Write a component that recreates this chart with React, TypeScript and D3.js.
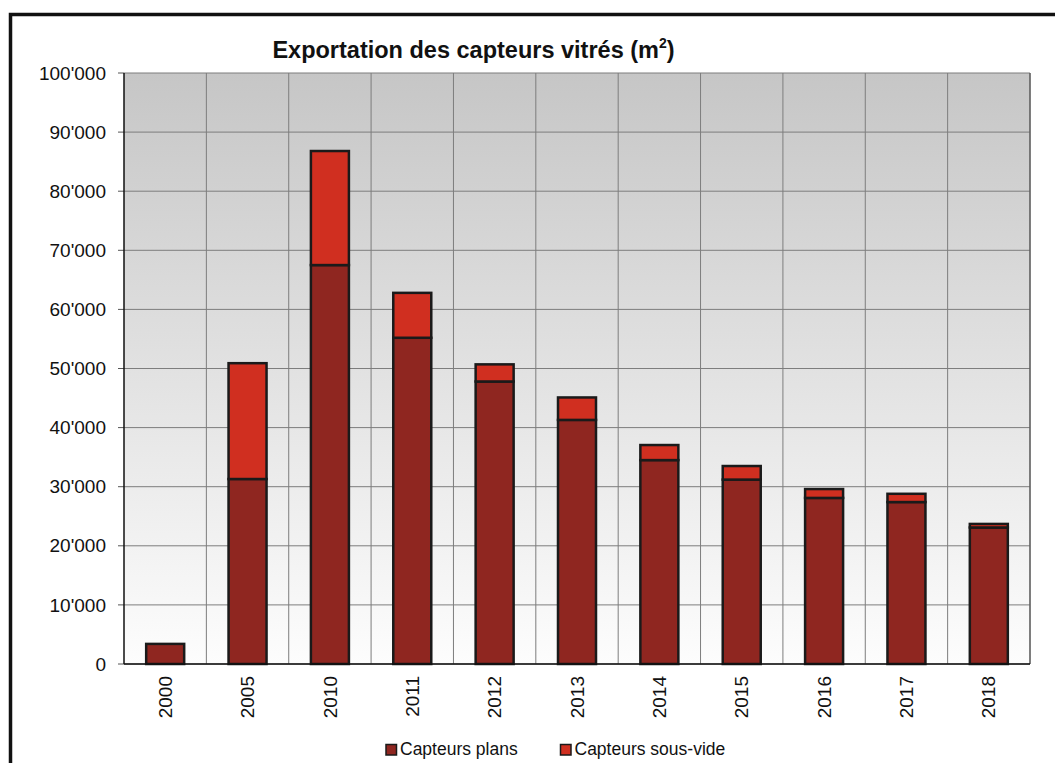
import React from 'react';
import * as d3 from 'd3';

const years = ['2000', '2005', '2010', '2011', '2012', '2013', '2014', '2015', '2016', '2017', '2018'];
const plans = [3400, 31300, 67500, 55200, 47800, 41300, 34500, 31200, 28100, 27400, 23100];
const sousVide = [0, 19600, 19300, 7600, 2900, 3800, 2550, 2300, 1500, 1400, 600];
const yTicks = [0, 10000, 20000, 30000, 40000, 50000, 60000, 70000, 80000, 90000, 100000];
const seriesNames = ['Capteurs plans', 'Capteurs sous-vide'];
const seriesColors = ['#8f2620', '#d02f20'];

const W = 1055, H = 763;
const plot = { left: 124, top: 73, right: 1030, bottom: 664 };
const FONT = '"Liberation Sans", Arial, sans-serif';

const fmt = (v: number) => {
  if (v === 0) return '0';
  const th = Math.floor(v / 1000);
  return `${th}'000`;
};

export default function App() {
  const x = d3.scaleBand<string>().domain(years).range([plot.left, plot.right]).paddingInner(0).paddingOuter(0);
  const y = d3.scaleLinear().domain([0, 100000]).range([plot.bottom, plot.top]);
  const bw = 38;
  const rows = years.map((yr, i) => ({ yr, a: plans[i], b: sousVide[i] }));
  const stack = d3.stack<any>().keys(['a', 'b'])(rows);

  return (
    <svg width={W} height={H} style={{ position: 'absolute', left: 0, top: 0 }} fontFamily={FONT}>
      <defs>
        <linearGradient id="bg" x1="0" y1="0" x2="0" y2="1">
          <stop offset="0" stopColor="#c6c6c6" />
          <stop offset="1" stopColor="#fdfdfd" />
        </linearGradient>
      </defs>
      <rect x={0} y={0} width={W} height={H} fill="#fff" />
      <rect x={10.5} y={14.5} width={W + 20} height={H + 20} fill="none" stroke="#111" strokeWidth={3.5} />
      <text x={473.5} y={58} textAnchor="middle" fontSize={23.5} fontWeight="bold" fill="#111">
        Exportation des capteurs vitrés (m<tspan dy={-10} fontSize={14}>2</tspan><tspan dy={10}>)</tspan>
      </text>
      <rect x={plot.left} y={plot.top} width={plot.right - plot.left} height={plot.bottom - plot.top} fill="url(#bg)" />
      {yTicks.map(t => (
        <g key={t}>
          <line x1={plot.left} x2={plot.right} y1={y(t)} y2={y(t)} stroke="#7d7d7d" strokeWidth={1} />
          <line x1={plot.left - 6} x2={plot.left} y1={y(t)} y2={y(t)} stroke="#555" strokeWidth={1} />
          <text x={106} y={y(t)} dy="0.35em" textAnchor="end" fontSize={19} fill="#111">{fmt(t)}</text>
        </g>
      ))}
      {years.map(yr => (
        <line key={yr} x1={(x(yr) as number) + x.bandwidth()} x2={(x(yr) as number) + x.bandwidth()} y1={plot.top} y2={plot.bottom} stroke="#7d7d7d" strokeWidth={1} />
      ))}
      <line x1={plot.right} x2={plot.right} y1={plot.top} y2={plot.bottom} stroke="#555" strokeWidth={1.2} />
      {stack.map((s, si) => (
        <g key={si}>
          {s.map((d, i) => {
            if (d[1] - d[0] <= 0) return null;
            const cx = (x(years[i]) as number) + x.bandwidth() / 2;
            return (
              <rect key={i} x={cx - bw / 2} y={y(d[1])} width={bw} height={y(d[0]) - y(d[1])}
                fill={seriesColors[si]} stroke="#1a1a1a" strokeWidth={2.5} />
            );
          })}
        </g>
      ))}
      <line x1={plot.left} x2={plot.left} y1={plot.top} y2={plot.bottom} stroke="#111" strokeWidth={1.5} />
      <line x1={plot.left} x2={plot.right} y1={plot.bottom} y2={plot.bottom} stroke="#111" strokeWidth={1.5} />
      {years.map(yr => {
        const cx = (x(yr) as number) + x.bandwidth() / 2;
        return (
          <text key={yr} transform={`translate(${cx},676) rotate(-90)`} textAnchor="end" dy="0.35em" fontSize={19} fill="#111">{yr}</text>
        );
      })}
      {seriesNames.map((n, i) => {
        const lx = i === 0 ? 386 : 560.5;
        return (
          <g key={n}>
            <rect x={lx} y={744.5} width={10.5} height={10.5} fill={seriesColors[i]} stroke="#1a1a1a" strokeWidth={1.5} />
            <text x={lx + 14} y={755} fontSize={17.5} fill="#111">{n}</text>
          </g>
        );
      })}
    </svg>
  );
}
